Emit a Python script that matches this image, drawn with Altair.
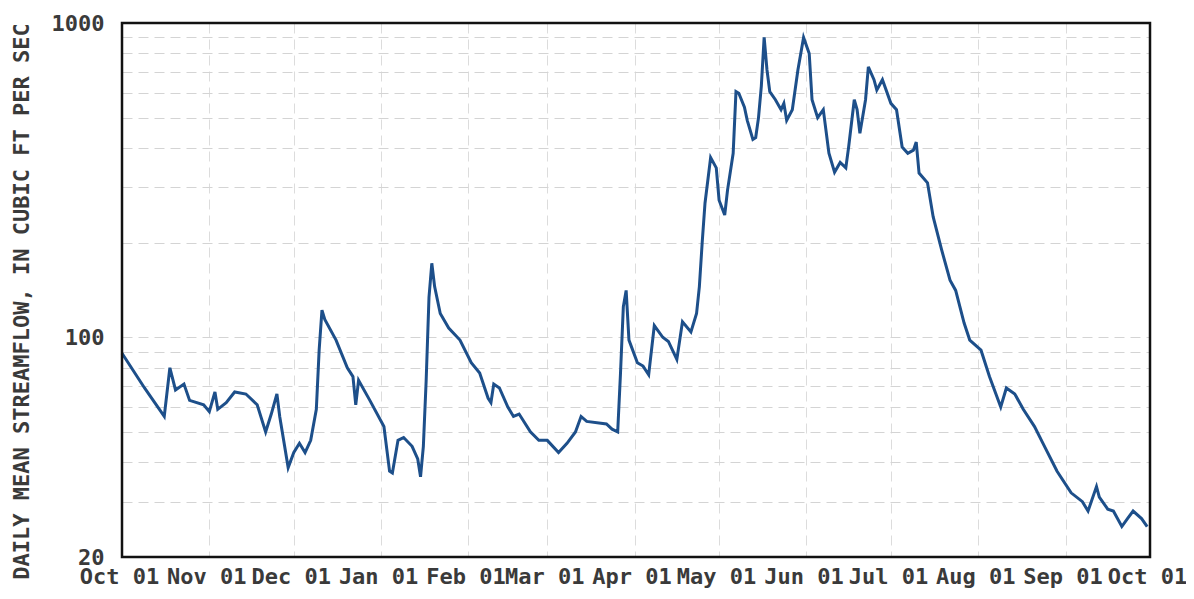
import altair as alt
import pandas as pd

# Days after 01 Oct (water year start) and daily mean streamflow (cfs)
day_offsets = [0, 8, 15, 17, 19, 22, 24, 29, 31, 33, 34, 37, 40, 44, 48, 51, 53, 55, 56, 59,
               61, 63, 65, 67, 69, 70, 71, 72, 76, 80, 82, 83, 84, 88, 93, 95, 96, 98, 100, 103,
               105, 106, 107, 108, 109, 110, 111, 113, 116, 120, 124, 127, 130, 131, 132, 134, 137, 139, 141, 145,
               148, 151, 155, 158, 161, 163, 165, 172, 174, 176, 177, 178, 179, 180, 183, 185, 187, 189, 192, 194,
               197, 199, 202, 204, 205, 206, 207, 209, 211, 212, 214, 215, 217, 218, 219, 221, 222, 224, 225, 226,
               227, 228, 229, 230, 232, 234, 235, 236, 238, 240, 242, 244, 245, 247, 249, 251, 253, 255, 257, 258,
               260, 261, 262, 264, 265, 267, 268, 270, 273, 275, 277, 279, 281, 282, 283, 286, 288, 291, 294, 296,
               299, 301, 305, 308, 312, 314, 317, 320, 324, 327, 332, 337, 341, 343, 346, 347, 350, 352, 355, 357,
               359, 362, 364]
flow_cfs = [89, 69, 56, 80, 68, 71, 63, 61, 58, 67, 59, 62, 67, 66, 61, 50, 57, 66, 56, 38.5,
            43, 46, 43, 47, 59, 91, 122, 114, 98, 80, 75, 61, 73, 63, 52, 37.5, 37, 47, 48, 45,
            41, 36, 45, 73, 134, 172, 145, 119, 107, 98, 83, 77, 64, 62, 71, 69, 60, 56, 57, 50,
            47, 47, 43, 46, 50, 56, 54, 53, 51, 50, 77, 125, 141, 98, 83, 81, 76, 109, 100, 97,
            85, 112, 104, 119, 145, 200, 267, 373, 346, 273, 245, 294, 385, 605, 598, 540, 490, 426, 432, 500,
            630, 900, 710, 605, 570, 530, 555, 490, 530, 710, 900, 800, 570, 500, 530, 385, 335, 360, 346, 403,
            570, 530, 446, 570, 725, 660, 612, 660, 555, 530, 403, 385, 394, 418, 333, 310, 242, 190, 152, 141,
            111, 98, 91, 75, 60, 69, 66, 59, 52, 46, 37.5, 32, 30, 28, 33.5, 31, 28.4, 28, 25, 26.5,
            28, 26.5, 25]

# Axis ticks
month_ticks = [(2010, 10), (2010, 11), (2010, 12), (2011, 1), (2011, 2), (2011, 3), (2011, 4),
               (2011, 5), (2011, 6), (2011, 7), (2011, 8), (2011, 9), (2011, 10)]
y_grid_values = [20, 30, 40, 50, 60, 70, 80, 90, 100, 200, 300, 400, 500, 600, 700, 800, 900, 1000]
y_label_values = [20, 100, 1000]

start = pd.Timestamp("2010-10-01")
df = pd.DataFrame({
    "date": [(start + pd.Timedelta(days=d)).strftime("%Y-%m-%dT%H:%M:%S") for d in day_offsets],
    "flow": flow_cfs,
})

month_vals = [alt.DateTime(year=y, month=m, date=1) for y, m in month_ticks]
label_list = ",".join(str(v) for v in y_label_values)

FONT = "DejaVu Sans Mono"
TXT = "#3a3a3a"
W, H = 1028, 534

line = alt.Chart(df).mark_line(color="#1d4f8a", strokeWidth=3).encode(
    x=alt.X("date:T",
            scale=alt.Scale(domain=[month_vals[0], month_vals[-1]], nice=False),
            axis=alt.Axis(values=month_vals, format="%b %d", title=None,
                          labelAlign="center", labelBaseline="top", labelPadding=9,
                          labelOffset=-3,
                          labelFont=FONT, labelFontWeight="bold", labelFontSize=22,
                          labelColor=TXT, labelOverlap=False, labelFlush=False,
                          ticks=False, domain=False,
                          grid=True, gridColor="#dcdcdc", gridDash=[10, 6], gridWidth=1)),
    y=alt.Y("flow:Q",
            scale=alt.Scale(type="log", domain=[20, 1000], nice=False),
            axis=alt.Axis(values=y_grid_values,
                          labelExpr=f"indexof([{label_list}], datum.value) >= 0 ? format(datum.value, 'd') : ''",
                          labelFont=FONT, labelFontWeight="bold", labelFontSize=22,
                          labelColor=TXT, labelPadding=18, labelOverlap=False, labelFlush=False,
                          labelAlign="right", labelBaseline="middle",
                          ticks=False, domain=False,
                          grid=True, gridColor="#d4d4d4", gridDash=[10, 6], gridWidth=1,
                          title="DAILY MEAN STREAMFLOW, IN CUBIC FT PER SEC",
                          titleFont=FONT, titleFontWeight="bold", titleFontSize=22,
                          titleColor=TXT, titleX=-101, titleY=278,
                          titleAlign="center", titleBaseline="middle", titleAngle=270)),
)

frame = alt.Chart(pd.DataFrame({"k": [0]})).mark_rect(
    fill=None, stroke="#111111", strokeWidth=2.5
).encode(x=alt.value(0), x2=alt.value(W), y=alt.value(0), y2=alt.value(H))

chart = alt.layer(line, frame).properties(
    width=W, height=H,
    autosize=alt.AutoSizeParams(type="none"),
    padding={"left": 114, "top": 15, "right": 36, "bottom": 34},
).configure_view(stroke=None)

chart.save("out.html", embed_options={"renderer": "svg", "actions": False})
